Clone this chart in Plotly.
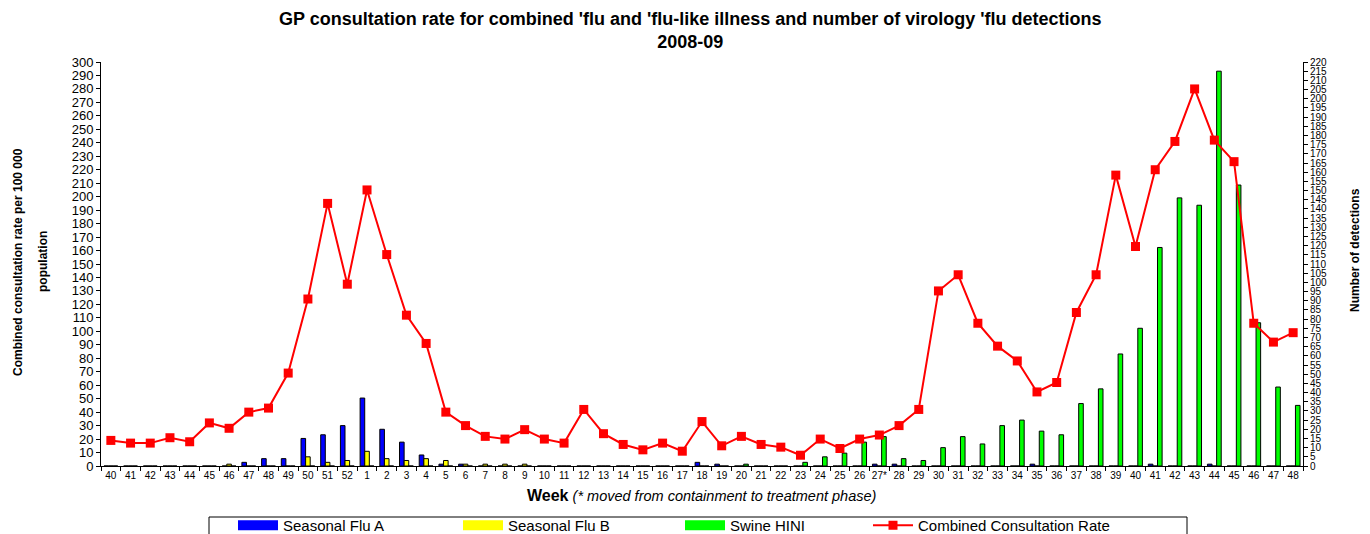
import plotly.graph_objects as go

weeks = ["40","41","42","43","44","45","46","47","48","49","50","51","52",
         "1","2","3","4","5","6","7","8","9","10","11","12","13","14","15","16","17",
         "18","19","20","21","22","23","24","25","26","27*","28","29","30","31","32",
         "33","34","35","36","37","38","39","40","41","42","43","44","45","46","47","48"]

consult_rate = [19, 17, 17, 21, 18, 32, 28, 40, 43, 69, 124, 195, 135,
                205, 157, 112, 91, 40, 30, 22, 20, 27, 20, 17, 42, 24, 16, 12, 17, 11,
                33, 15, 22, 16, 14, 8, 20, 13, 20, 23, 30, 42, 130, 142, 106,
                89, 78, 55, 62, 114, 142, 216, 163, 220, 241, 280, 242, 226, 106, 92, 99]

flu_a = [0, 0, 0, 0, 0, 0, 0, 2, 4, 4, 15, 17, 22,
         37, 20, 13, 6, 1, 1, 0, 0, 0, 0, 0, 0, 0, 0, 0, 0, 0,
         2, 1, 0, 0, 0, 0, 0, 0, 0, 1, 1, 0, 0, 0, 0,
         0, 0, 1, 0, 0, 0, 0, 0, 1, 0, 0, 1, 0, 0, 0, 0]

flu_b = [0, 0, 0, 0, 0, 0, 1, 0, 0, 0, 5, 2, 3,
         8, 4, 3, 4, 3, 1, 1, 1, 1, 0, 0, 0, 0, 0, 0, 0, 0,
         0, 0, 0, 0, 0, 0, 0, 0, 0, 0, 0, 0, 0, 0, 0,
         0, 0, 0, 0, 0, 0, 0, 0, 0, 0, 0, 0, 0, 0, 0, 0]

swine = [0, 0, 0, 0, 0, 0, 0, 0, 0, 0, 0, 0, 0,
         0, 0, 0, 0, 0, 0, 0, 0, 0, 0, 0, 0, 0, 0, 0, 0, 0,
         0, 0, 1, 0, 0, 2, 5, 7, 13, 16, 4, 3, 10, 16, 12,
         22, 25, 19, 17, 34, 42, 61, 75, 119, 146, 142, 215, 153, 78, 43, 33]

x = list(range(len(weeks)))
FONT = "Arial, Liberation Sans, sans-serif"

# page body margin offset (screen px -> figure px)
OFF = 8
FW, FH = 1370 - OFF, 534 - OFF
# plot area in screen pixels
L, R, T, B = 101 - OFF, 1303 - OFF, 62 - OFF, 466 - OFF
W, H = R - L, B - T
def px_x(p):
    return (p - OFF - L) / W
def px_y(p):
    return (B - (p - OFF)) / H

bar_series = [("Seasonal Flu A", flu_a, "#0000FF", "legend"),
              ("Seasonal Flu B", flu_b, "#FFFF00", "legend2"),
              ("Swine HINI", swine, "#00FF00", "legend3")]

fig = go.Figure()
for name, vals, col, lg in bar_series:
    fig.add_trace(go.Bar(x=x, y=vals, name=name, marker=dict(color=col, line=dict(color="black", width=1)),
                         yaxis="y", showlegend=False, legendgroup=name))
for name, vals, col, lg in bar_series:
    fig.add_trace(go.Scatter(x=[None], y=[None], name=name, mode="lines", legend=lg, legendgroup=name,
                             line=dict(color=col, width=10), yaxis="y"))
fig.add_trace(go.Scatter(x=x, y=consult_rate, name="Combined Consultation Rate", mode="lines+markers",
                         line=dict(color="#FF0000", width=2), legend="legend4",
                         marker=dict(symbol="square", size=9, color="#FF0000"), yaxis="y2"))

leg_common = dict(orientation="h", xanchor="left", yanchor="top", y=px_y(509),
                  bgcolor="rgba(0,0,0,0)", borderwidth=0, font=dict(size=15, family=FONT), itemwidth=40)
legend_x = [233, 458, 680, 868]

fig.update_layout(
    width=FW, height=FH,
    paper_bgcolor="white", plot_bgcolor="white",
    margin=dict(l=L, r=FW - R, t=T, b=FH - B, autoexpand=False),
    barmode="group", bargap=0.3, bargroupgap=0,
    font=dict(family=FONT, color="black"),
    xaxis=dict(range=[-0.5, len(weeks) - 0.5], tickmode="array", tickvals=x, ticktext=weeks,
               ticks="", showline=True, linecolor="black", linewidth=1, showgrid=False, zeroline=False,
               tickfont=dict(size=10), tickangle=0,
               minor=dict(tickmode="array", tickvals=[i - 0.5 for i in x] + [len(weeks) - 0.5],
                          ticks="outside", ticklen=4, tickcolor="black", showgrid=False)),
    yaxis=dict(range=[0, 220], dtick=5, side="right", ticks="outside", ticklen=4, tickcolor="black",
               showline=True, linecolor="black", linewidth=1, showgrid=False, zeroline=False,
               tickfont=dict(size=10)),
    yaxis2=dict(range=[0, 300], dtick=10, side="left", overlaying="y", ticks="outside", ticklen=4,
                tickcolor="black", showline=True, linecolor="black", linewidth=1, showgrid=False,
                zeroline=False, tickfont=dict(size=13)),
    legend=dict(leg_common, x=px_x(legend_x[0])),
    legend2=dict(leg_common, x=px_x(legend_x[1])),
    legend3=dict(leg_common, x=px_x(legend_x[2])),
    legend4=dict(leg_common, x=px_x(legend_x[3])),
    shapes=[dict(type="rect", xref="paper", yref="paper", x0=px_x(209), x1=px_x(1187),
                 y0=px_y(517), y1=px_y(545), line=dict(color="black", width=1), fillcolor="rgba(0,0,0,0)")],
    annotations=[
        dict(text="<b>GP consultation rate for combined 'flu and 'flu-like illness and number of virology 'flu detections<br>2008-09</b>",
             xref="paper", yref="paper", x=px_x(690), y=px_y(7), xanchor="center", yanchor="top",
             showarrow=False, font=dict(size=18)),
        dict(text="<b><span style='font-size:16px'>Week</span></b> <i>(* moved from containment to treatment phase)</i>",
             xref="paper", yref="paper", x=px_x(701), y=px_y(495), xanchor="center", yanchor="middle",
             showarrow=False, font=dict(size=14.5)),
        dict(text="<b>Combined consultation rate per 100 000</b>", xref="paper", yref="paper",
             x=px_x(18), y=px_y(262), xanchor="center", yanchor="middle", textangle=-90, showarrow=False,
             font=dict(size=12)),
        dict(text="<b>population</b>", xref="paper", yref="paper",
             x=px_x(43), y=px_y(262), xanchor="center", yanchor="middle", textangle=-90, showarrow=False,
             font=dict(size=12)),
        dict(text="<b>Number of detections</b>", xref="paper", yref="paper",
             x=px_x(1355), y=px_y(250), xanchor="center", yanchor="middle", textangle=-90, showarrow=False,
             font=dict(size=12)),
    ],
)

fig.write_html("out.html")
